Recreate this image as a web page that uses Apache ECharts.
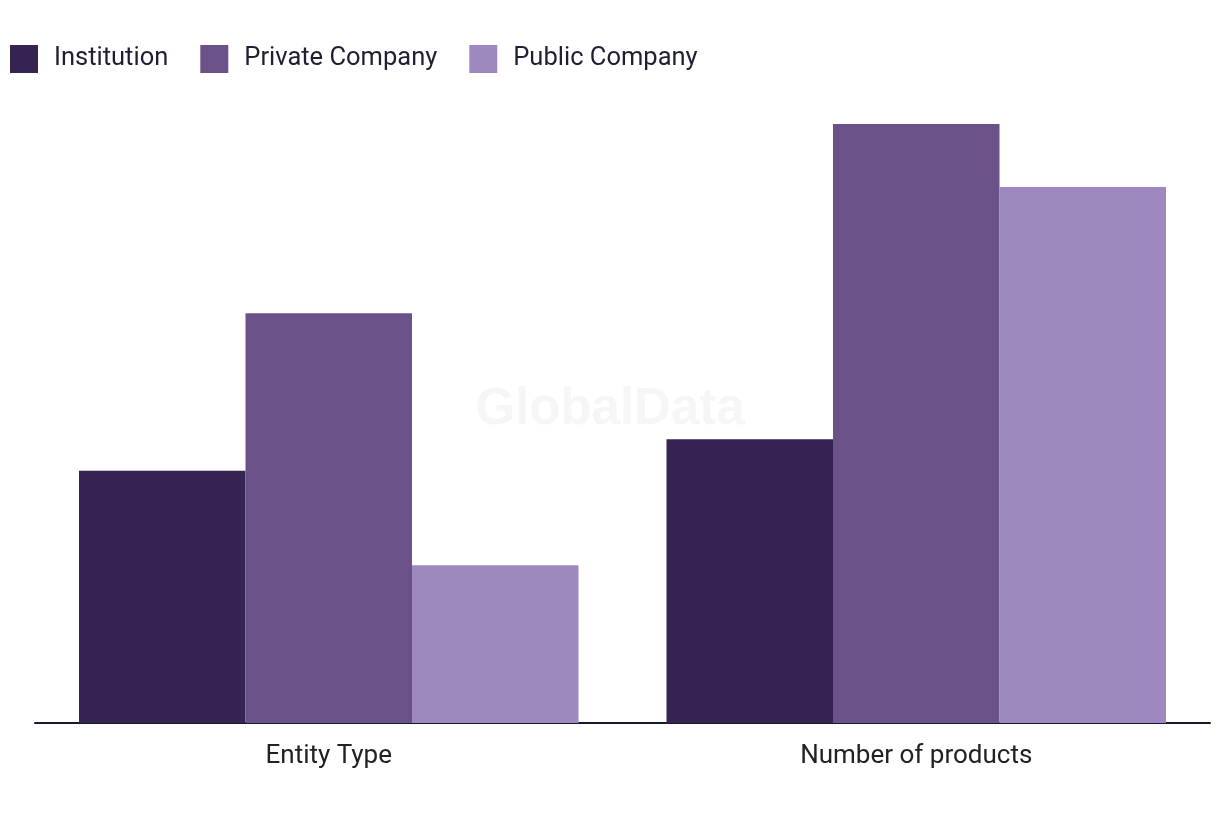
<!DOCTYPE html>
<html>
<head>
<meta charset="utf-8">
<script src="https://cdn.jsdelivr.net/npm/echarts@6/dist/echarts.min.js"></script>
<style>
html,body{margin:0;padding:0;background:#fff;}
#c{width:1220px;height:820px;}
</style>
</head>
<body>
<div id="c"></div>
<script>
const categories = ['Entity Type', 'Number of products'];
const seriesNames = ['Institution', 'Private Company', 'Public Company'];
const institution = [8, 9];
const privateCompany = [13, 19];
const publicCompany = [5, 17];
const colors = ['#352452', '#6a5289', '#9e88c0'];

const chart = echarts.init(document.getElementById('c'));
const values = [institution, privateCompany, publicCompany];
chart.setOption({
  animation: false,
  color: colors,
  textStyle: { fontFamily: 'Roboto' },
  legend: {
    left: 10, top: 45, padding: 0,
    itemWidth: 28, itemHeight: 28, itemGap: 32,
    icon: 'rect',
    textStyle: { fontSize: 25.5, color: '#1f1f33', fontFamily: 'Roboto', padding: [3, 0, 0, 11] },
    data: seriesNames
  },
  graphic: [{
    type: 'text', left: 'center', top: 384, z: 0,
    style: { text: 'GlobalData', fontSize: 51, fontWeight: 'bold', fontFamily: 'Liberation Sans', fill: '#f6f6f6' }
  }],
  grid: { left: 35, right: 10, top: 124, bottom: 97, containLabel: false },
  xAxis: {
    type: 'category', data: categories,
    axisLine: { lineStyle: { color: '#1a1a2e', width: 2 } },
    axisTick: { show: false },
    axisLabel: { fontSize: 26, color: '#222', margin: 20 }
  },
  yAxis: {
    type: 'value', min: 0, max: 19, show: false,
    splitLine: { show: false }
  },
  series: seriesNames.map((n, i) => ({
    name: n, type: 'bar', data: values[i], barWidth: 166.5, barGap: '0%', z: 2
  }))
});
</script>
</body>
</html>
